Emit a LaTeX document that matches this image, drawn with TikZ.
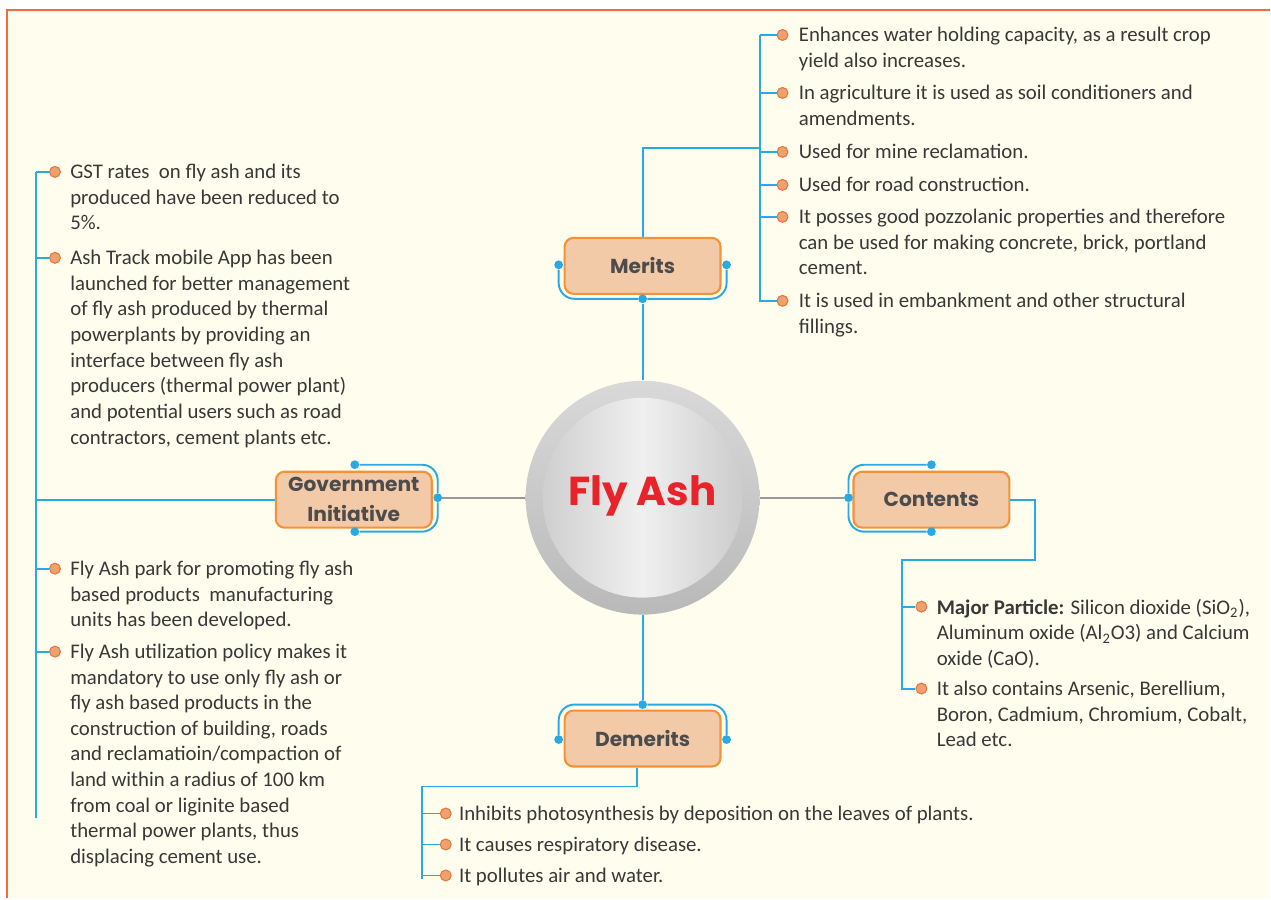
\documentclass[tikz,border=0pt]{standalone}
\usepackage{fontspec}
\setmainfont{Carlito}
\newfontfamily\headfont{Poppins}
\usetikzlibrary{positioning}
\definecolor{cream}{HTML}{FFFDEE}
\definecolor{frameorange}{HTML}{F26B3A}
\definecolor{linkblue}{HTML}{29A9E1}
\definecolor{boxfill}{HTML}{F3CAA8}
\definecolor{boxdraw}{HTML}{F39237}
\definecolor{dotfill}{HTML}{F0A06E}
\definecolor{dotdraw}{HTML}{E2783E}
\definecolor{txt}{HTML}{383838}
\definecolor{ashred}{HTML}{E8232A}
\tikzstyle{link}=[draw=linkblue, line width=1.1pt]
\tikzstyle{spoke}=[draw=gray!80, line width=1.1pt]
\tikzset{
  topic/.style = {draw=boxdraw, fill=boxfill, line width=1.2pt, rounded corners=5pt,
    minimum width=3.12cm, minimum height=1.12cm, inner sep=0pt, align=center,
    font=\headfont\bfseries\fontsize{11.5}{14}\selectfont, text=txt!90},
  bullet/.style = {circle, fill=dotfill, draw=dotdraw, line width=0.6pt, minimum size=6.2pt, inner sep=0pt},
  pin/.style = {circle, fill=linkblue, minimum size=5pt, inner sep=0pt},
  item/.style = {anchor=north west, inner sep=0pt, align=left, text=txt,
    font=\fontsize{11.85}{14.6}\selectfont},
}
\begin{document}
\begin{tikzpicture}[x=0.02cm,y=-0.02cm]
  % page
  \fill[white] (0,0) rectangle (1271,899);
  \fill[cream] (7,10) rectangle (1271,899);
  \draw[frameorange, line width=0.9pt] (7,899) -- (7,10) -- (1271,10);
  \path[use as bounding box] (0,0) rectangle (1271,899);

  % centre
  \shade[top color=gray!30, bottom color=gray!55] (643,498) circle (2.34cm);
  \shade[left color=gray!38, right color=gray!40, middle color=gray!12] (643,498) circle (2cm);
  \node[circle, minimum size=4.68cm, inner sep=0pt] (ash) at (643,498) {};
  \node[font=\headfont\bfseries\fontsize{23}{28}\selectfont, text=ashred] (title) at (643,496) {Fly Ash};

  % topics
  \node[topic] (merits) at (643,266) {Merits};
  \node[topic] (gov) at (354,500) {Government\\[3pt]Initiative};
  \node[topic] (cont) at (932,500) {Contents};
  \node[topic] (dem) at (643,739) {Demerits};

  % pins
  \node[pin] (mL) at (559,265) {};
  \node[pin] (mR) at (727,265) {};
  \node[pin] (mB) at (643,299) {};
  \node[pin] (gT) at (355,465) {};
  \node[pin] (gB) at (355,532) {};
  \node[pin] (gR) at (438,498) {};
  \node[pin] (cT) at (932,465) {};
  \node[pin] (cB) at (932,532) {};
  \node[pin] (cL) at (849,498) {};
  \node[pin] (dL) at (559,740) {};
  \node[pin] (dR) at (727,740) {};
  \node[pin] (dT) at (643,705) {};

  % brackets round the topics
  \path[link, rounded corners=9pt] (mL) |- (mB) -| (mR);
  \path[link, rounded corners=9pt] (gT) -| (gR) |- (gB);
  \path[link, rounded corners=9pt] (cT) -| (cL) |- (cB);
  \path[link, rounded corners=9pt] (dL) |- (dT) -| (dR);

  % centre to topics
  \path[link] (ash.north) -- (mB);
  \path[link] (ash.south) -- (dT);
  \path[spoke] (ash.west) -- (gR);
  \path[spoke] (ash.east) -- (cL);

  % merits
  \coordinate (mtop) at (760,35);
  \coordinate (mbot) at (760,302);
  \path[link] (merits.north) |- (760,148);
  \path[link] (mtop) -- (mbot);
  \node[bullet] (m1) at (783,35) {};
  \node[bullet] (m2) at (783,93) {};
  \node[bullet] (m3) at (783,152) {};
  \node[bullet] (m4) at (783,185) {};
  \node[bullet] (m5) at (783,217) {};
  \node[bullet] (m6) at (783,301) {};
  \foreach \b in {m1,m2,m3,m4,m5,m6} \path[link] (\b.west) -- (\b -| mtop);
  \node[item] (mt1) at (799,27) {Enhances water holding capacity, as a result crop\\yield also increases.};
  \node[item] (mt2) at (799,85) {In agriculture it is used as soil conditioners and\\amendments.};
  \node[item] (mt3) at (799,144) {Used for mine reclamation.};
  \node[item] (mt4) at (799,177) {Used for road construction.};
  \node[item] (mt5) at (799,209) {It posses good pozzolanic properties and therefore\\can be used for making concrete, brick, portland\\cement.};
  \node[item] (mt6) at (799,293) {It is used in embankment and other structural\\fillings.};

  % government initiative
  \coordinate (gtop) at (36,172);
  \coordinate (gbot) at (36,818);
  \path[link] (gov.west) -- (gov.west -| gtop);
  \path[link] (gtop) -- (gbot);
  \node[bullet] (g1) at (55,172) {};
  \node[bullet] (g2) at (55,258) {};
  \node[bullet] (g3) at (55,569) {};
  \node[bullet] (g4) at (55,652) {};
  \foreach \b in {g1,g2,g3,g4} \path[link] (\b.west) -- (\b -| gtop);
  \node[item] (gt1) at (70,164) {GST rates \ on fly ash and its\\produced have been reduced to\\5\%.};
  \node[item] (gt2) at (70,250) {Ash Track mobile App has been\\launched for better management\\of fly ash produced by thermal\\powerplants by providing an\\interface between fly ash\\producers (thermal power plant)\\and potential users such as road\\contractors, cement plants etc.};
  \node[item] (gt3) at (70,561) {Fly Ash park for promoting fly ash\\based products \ manufacturing\\units has been developed.};
  \node[item] (gt4) at (70,644) {Fly Ash utilization policy makes it\\mandatory to use only fly ash or\\fly ash based products in the\\construction of building, roads\\and reclamatioin/compaction of\\land within a radius of 100 km\\from coal or liginite based\\thermal power plants, thus\\displacing cement use.};

  % contents
  \coordinate (cJ) at (1036,560);
  \coordinate (ctop) at (903,560);
  \coordinate (cbot) at (903,690);
  \path[link] (cont.east) -| (cJ) -- (ctop) -- (cbot);
  \node[bullet] (c1) at (922,607) {};
  \node[bullet] (c2) at (922,689) {};
  \foreach \b in {c1,c2} \path[link] (\b.west) -- (\b -| ctop);
  \node[item] (ct1) at (937,599) {\textbf{Major Particle:} Silicon dioxide (SiO\textsubscript{2}),\\Aluminum oxide (Al\textsubscript{2}O3) and Calcium\\oxide (CaO).};
  \node[item] (ct2) at (937,681) {It also contains Arsenic, Berellium,\\Boron, Cadmium, Chromium, Cobalt,\\Lead etc.};

  % demerits
  \coordinate (dJ) at (637,787);
  \coordinate (dtop) at (422,787);
  \coordinate (dbot) at (422,880);
  \path[link] (dem.south -| dJ) -- (dJ) -- (dtop) -- (dbot);
  \node[bullet] (d1) at (446,814) {};
  \node[bullet] (d2) at (446,845) {};
  \node[bullet] (d3) at (446,876) {};
  \foreach \b in {d1,d2,d3} \path[link] (\b.west) -- (\b -| dtop);
  \node[item] (dt1) at (459,806) {Inhibits photosynthesis by deposition on the leaves of plants.};
  \node[item] (dt2) at (459,837) {It causes respiratory disease.};
  \node[item] (dt3) at (459,868) {It pollutes air and water.};
\end{tikzpicture}
\end{document}
